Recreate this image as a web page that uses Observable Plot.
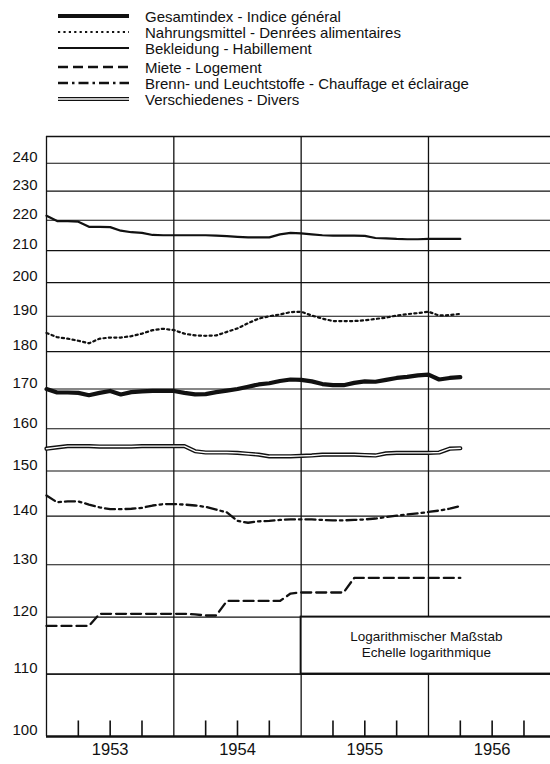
<!DOCTYPE html>
<html><head><meta charset="utf-8">
<script src="https://cdn.jsdelivr.net/npm/d3@7"></script>
<script src="https://cdn.jsdelivr.net/npm/@observablehq/plot@0.6"></script>
<style>
body{margin:0;background:#fff;font-family:"Liberation Sans",Arial,Helvetica,sans-serif;color:#111;}
#legend{position:relative;height:130px;width:550px;}
.row{position:absolute;left:57px;height:16px;display:flex;align-items:center;white-space:nowrap;}
.row svg{display:block;}
.row span{margin-left:15px;font-size:15px;}
#chart svg{display:block;}
</style></head><body>
<div id="legend"></div><div id="chart"></div>
<script>
// months counted from January 1953 (0) to April 1956 (39)
const months = d3.range(40);

const seriesNames = [
  "Gesamtindex - Indice général",
  "Nahrungsmittel - Denrées alimentaires",
  "Bekleidung - Habillement",
  "Miete - Logement",
  "Brenn- und Leuchtstoffe - Chauffage et éclairage",
  "Verschiedenes - Divers"
];

const gesamt = [170.0,169.1,169.1,169.0,168.4,169.0,169.5,168.6,169.2,169.4,
  169.5,169.5,169.5,169.0,168.6,168.7,169.2,169.6,170.0,170.6,
  171.2,171.5,172.1,172.5,172.4,172.0,171.3,171.0,171.0,171.6,
  172.0,171.9,172.4,172.9,173.2,173.6,173.8,172.5,172.9,173.1];
const nahrung = [185.2,184.0,183.6,183.0,182.3,183.6,183.9,183.9,184.3,185.0,
  186.0,186.4,186.0,185.0,184.5,184.4,184.5,185.5,186.5,188.0,
  189.3,190.0,190.5,191.2,191.3,190.2,189.3,188.6,188.6,188.6,
  188.8,189.2,189.6,190.2,190.6,190.9,191.3,190.2,190.3,190.7];
const bekleidung = [221.5,219.7,219.7,219.5,217.8,217.8,217.7,216.5,216.0,215.8,
  215.1,215.0,215.0,215.0,215.0,215.0,214.9,214.7,214.5,214.3,
  214.3,214.3,215.3,215.8,215.6,215.3,215.0,214.9,214.9,214.9,
  214.8,214.1,214.0,213.8,213.7,213.7,213.8,213.8,213.8,213.8];
const miete = [118.4,118.4,118.4,118.4,118.4,120.6,120.6,120.6,120.6,120.6,
  120.6,120.6,120.6,120.6,120.5,120.3,120.3,123.0,123.0,123.0,
  123.0,123.0,123.0,124.4,124.6,124.6,124.6,124.6,124.6,127.4,
  127.4,127.4,127.4,127.4,127.4,127.4,127.4,127.4,127.4,127.4];
const brenn = [144.5,143.0,143.2,143.2,142.5,141.9,141.5,141.5,141.6,141.8,
  142.3,142.6,142.6,142.5,142.3,142.0,141.4,140.8,139.0,138.6,
  138.9,139.0,139.2,139.3,139.3,139.3,139.2,139.1,139.1,139.2,
  139.3,139.5,139.8,140.1,140.4,140.6,140.9,141.2,141.6,142.2];
const verschiedenes = [155.2,155.5,155.8,155.8,155.8,155.7,155.7,155.7,155.7,155.8,
  155.8,155.8,155.8,155.8,154.6,154.3,154.3,154.3,154.2,154.0,
  153.8,153.4,153.4,153.4,153.5,153.6,153.8,153.8,153.8,153.8,
  153.7,153.6,154.1,154.2,154.2,154.2,154.2,154.3,155.2,155.3];

const yTicks = [100,110,120,130,140,150,160,170,180,190,200,210,220,230,240];
const yearLabels = ["1953","1954","1955","1956"];
const yearStarts = [0,12,24,36];
const quarterTicks = [3,6,9,15,18,21,27,30,33,39,42,45];
const boxTexts = ["Logarithmischer Maßstab","Echelle logarithmique"];

// styles per series
const styles = [
  {strokeWidth:4.2},
  {strokeWidth:2.2, strokeDasharray:"2.2,3.2"},
  {strokeWidth:2.2},
  {strokeWidth:2.3, strokeDasharray:"10,5"},
  {strokeWidth:2.3, strokeDasharray:"10,4,2.5,4"},
  {strokeWidth:4.2, double:true}
];
const allValues = [gesamt, nahrung, bekleidung, miete, brenn, verschiedenes];

// legend
const legendRows = [16,32,48,67,83,99];
const leg = d3.select("#legend");
seriesNames.forEach((name,i)=>{
  const row = leg.append("div").attr("class","row").style("top",(legendRows[i]-8)+"px");
  const s = row.append("svg").attr("width",73).attr("height",16);
  const st = styles[i];
  s.append("line").attr("x1",1).attr("x2",72).attr("y1",8).attr("y2",8)
    .attr("stroke","#111").attr("stroke-width",st.strokeWidth)
    .attr("stroke-dasharray",st.strokeDasharray||null);
  if (st.double) s.append("line").attr("x1",1).attr("x2",72).attr("y1",8).attr("y2",8)
    .attr("stroke","#fff").attr("stroke-width",1.4);
  row.append("span").text(name);
});

const lineMarks = [];
allValues.forEach((vals,i)=>{
  const st = styles[i];
  const data = months.map((m,j)=>({m, v: vals[j]}));
  lineMarks.push(Plot.line(data,{x:"m", y:"v", stroke:"#111", strokeWidth:st.strokeWidth,
    strokeDasharray:st.strokeDasharray, strokeLinejoin:"round"}));
  if (st.double) lineMarks.push(Plot.line(data,{x:"m", y:"v", stroke:"#fff", strokeWidth:1.4}));
});

const plot = Plot.plot({
  width:550, height:634,
  marginLeft:46, marginRight:0, marginTop:6, marginBottom:28,
  x:{domain:[0,47.5], axis:null},
  y:{type:"log", domain:[100,250], axis:null},
  style:{fontFamily:'"Liberation Sans",Arial,Helvetica,sans-serif', background:"#fff", color:"#111"},
  marks:[
    Plot.ruleY(yTicks.slice(1), {stroke:"#111", strokeWidth:1.1}),
    Plot.ruleY([250], {stroke:"#111", strokeWidth:1.6}),
    Plot.ruleX(yearStarts, {stroke:"#111", strokeWidth:1.3}),
    Plot.ruleX(quarterTicks, {y1:100, y2:102.4, stroke:"#111", strokeWidth:1.6}),
    Plot.ruleY([100], {stroke:"#111", strokeWidth:2.5}),
    ...lineMarks,
    Plot.rect([{x1:24, x2:49, y1:110, y2:120}], {x1:"x1", x2:"x2", y1:"y1", y2:"y2",
      fill:"#fff", stroke:"#111", strokeWidth:2, clip:true}),
    Plot.ruleY([110], {stroke:"#111", strokeWidth:1.1}),
    Plot.text(boxTexts, {x:[35.8,35.8], y:[116.4,113.6], text:d=>d, fontSize:13.5, fill:"#111"}),
    Plot.text(yTicks, {x:0, y:d=>d, text:d=>String(d), textAnchor:"end", dx:-9, dy:-6, fontSize:15, fill:"#111"}),
    Plot.text(yearLabels, {x:yearStarts.map(d=>d+6), y:[100,100,100,100], text:d=>d, dy:13, fontSize:16.5, fill:"#111"})
  ]
});
document.getElementById("chart").appendChild(plot);
</script>
</body></html>
